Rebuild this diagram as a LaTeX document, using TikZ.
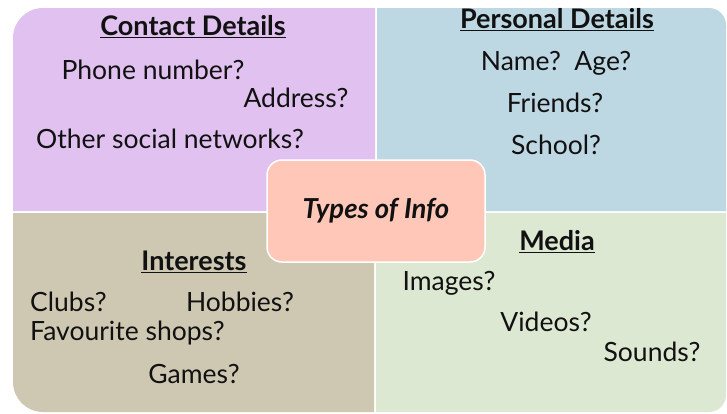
\documentclass[tikz,border=0pt]{standalone}
\usepackage{fontspec}
\setmainfont{Lato}
\definecolor{cpurple}{HTML}{E0C1EF}
\definecolor{cblue}{HTML}{BDD7E3}
\definecolor{cbeige}{HTML}{CEC8B3}
\definecolor{cgreen}{HTML}{DDE8D2}
\definecolor{csalmon}{HTML}{FFC7B8}
\definecolor{ctext}{HTML}{111111}
\begin{document}
\begin{tikzpicture}[x=1pt,y=-1pt,
  txt/.style={inner sep=0pt,text=ctext,font=\fontsize{26.5}{30}\selectfont},
  head/.style={txt,font=\fontsize{27}{30}\selectfont\bfseries},
  center/.style={fill=csalmon,draw=white,line width=1.5pt,rounded corners=15pt}]
\useasboundingbox (0,0) rectangle (727,413);
\fill[white] (0,0) rectangle (727,413);
% quadrants
\fill[cpurple] (13,211) [rounded corners=30pt] -- (13,8) [sharp corners] -- (375,8) -- (375,211) -- cycle;
\fill[cblue] (377,211) -- (377,8) [rounded corners=17pt] -- (726,8) [sharp corners] -- (726,211) -- cycle;
\fill[cbeige] (374,213) -- (13,213) [rounded corners=30pt] -- (13,412) [sharp corners] -- (374,412) -- cycle;
\fill[cgreen] (376,213) -- (726,213) [rounded corners=17pt] -- (726,412) [sharp corners] -- (376,412) -- cycle;
% center
\node[center,minimum width=218pt,minimum height=102pt] (ctr) at (376,211) {};
\node[txt,font=\fontsize{27.5}{30}\selectfont\bfseries\itshape] (types) at (376,211) {Types of Info};
% contact
\node[head] (h1) at (193,27) {\underline{Contact Details}};
\node[txt] (t1) at (153,70) {Phone number?};
\node[txt] (t2) at (296,98) {Address?};
\node[txt] (t3) at (170,139) {Other social networks?};
% personal
\node[head] (h2) at (557,20) {\underline{Personal Details}};
\node[txt] (t4) at (556,63) {Name?\ \ Age?};
\node[txt] (t5) at (555,103) {Friends?};
\node[txt] (t6) at (556,145) {School?};
% interests
\node[head] (h3) at (194,262) {\underline{Interests}};
\node[txt,anchor=west] (t7) at (30,302) {Clubs?};
\node[txt] (t8) at (240,302) {Hobbies?};
\node[txt,anchor=west] (t9) at (30,333) {Favourite shops?};
\node[txt] (t10) at (194,374) {Games?};
% media
\node[head] (h4) at (557,242) {\underline{Media}};
\node[txt] (t11) at (449,283) {Images?};
\node[txt] (t12) at (546,322) {Videos?};
\node[txt] (t13) at (652,352) {Sounds?};
\end{tikzpicture}
\end{document}
